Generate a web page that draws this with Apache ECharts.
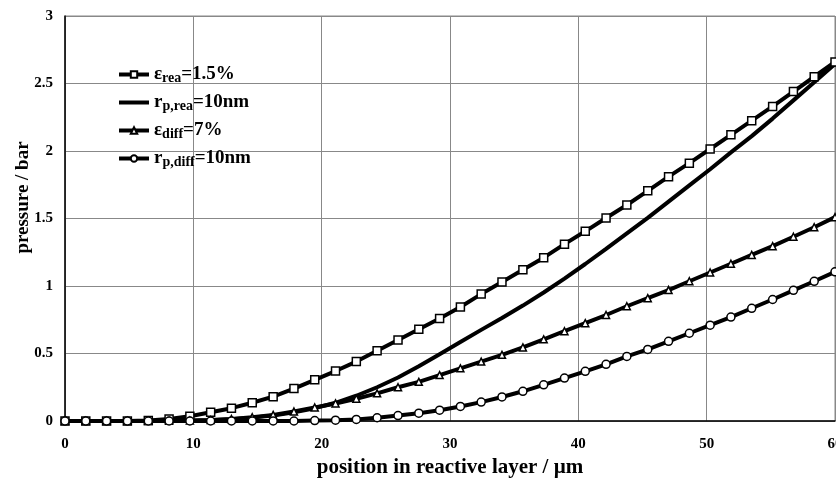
<!DOCTYPE html>
<html>
<head>
<meta charset="utf-8">
<script src="https://cdn.jsdelivr.net/npm/echarts@6/dist/echarts.min.js"></script>
<style>
  html, body { margin: 0; padding: 0; background: #fff; }
  #chart { width: 836px; height: 486px; }
</style>
</head>
<body>
<div id="chart"></div>
<script>
// position in reactive layer (µm), one value per marker
const positions = [0, 1.62, 3.24, 4.86, 6.49, 8.11, 9.73, 11.35, 12.97, 14.59,
  16.22, 17.84, 19.46, 21.08, 22.70, 24.32, 25.95, 27.57, 29.19, 30.81,
  32.43, 34.05, 35.68, 37.30, 38.92, 40.54, 42.16, 43.78, 45.41, 47.03,
  48.65, 50.27, 51.89, 53.51, 55.14, 56.76, 58.38, 60];

// pressure / bar
const epsRea = [0, 0, 0, 0, 0.004, 0.015, 0.035, 0.065, 0.095, 0.135,
  0.18, 0.24, 0.305, 0.37, 0.44, 0.52, 0.60, 0.68, 0.76, 0.845,
  0.94, 1.03, 1.12, 1.21, 1.31, 1.405, 1.504, 1.60, 1.705, 1.81,
  1.91, 2.015, 2.12, 2.225, 2.33, 2.44, 2.55, 2.66];
const rpRea = [0, 0, 0, 0, 0, 0, 0.002, 0.006, 0.013, 0.025,
  0.04, 0.065, 0.095, 0.135, 0.187, 0.25, 0.322, 0.405, 0.495, 0.585,
  0.675, 0.763, 0.855, 0.952, 1.055, 1.163, 1.275, 1.39, 1.505, 1.625,
  1.745, 1.865, 1.99, 2.11, 2.24, 2.375, 2.51, 2.645];
const epsDiff = [0, 0, 0, 0, 0, 0.001, 0.003, 0.007, 0.015, 0.028,
  0.045, 0.07, 0.10, 0.13, 0.165, 0.205, 0.25, 0.29, 0.34, 0.39,
  0.44, 0.49, 0.545, 0.605, 0.665, 0.725, 0.785, 0.85, 0.91, 0.97,
  1.035, 1.10, 1.165, 1.23, 1.295, 1.365, 1.435, 1.51];
const rpDiff = [0, 0, 0, 0, 0, 0, 0, 0, 0, 0,
  0, 0, 0.003, 0.006, 0.012, 0.024, 0.04, 0.058, 0.08, 0.108,
  0.14, 0.178, 0.22, 0.268, 0.318, 0.368, 0.42, 0.478, 0.53, 0.59,
  0.65, 0.71, 0.77, 0.835, 0.90, 0.968, 1.035, 1.105];

const xTicks = [0, 10, 20, 30, 40, 50, 60];

const font = "Liberation Serif";
const zip = (ys) => positions.map((x, i) => [x, ys[i]]);

const legendText = {
  epsRea: "{m|ε}{s|rea}{m|=1.5%}",
  rpRea: "{m|r}{s|p,rea}{m|=10nm}",
  epsDiff: "{m|ε}{s|diff}{m|=7%}",
  rpDiff: "{m|r}{s|p,diff}{m|=10nm}",
};

function lineSeries(name, ys, symbol, size) {
  return {
    name: name,
    type: "line",
    data: zip(ys),
    symbol: symbol,
    symbolSize: size,
    showSymbol: symbol !== "none",
    color: "#000",
    lineStyle: { color: "#000", width: 4 },
    itemStyle: { color: "#fff", borderColor: "#000", borderWidth: 1.5 },
    animation: false,
  };
}

const chart = echarts.init(document.getElementById("chart"));
chart.setOption({
  backgroundColor: "#fff",
  grid: {
    left: 65, right: 1, top: 16, bottom: 65,
    outerBoundsMode: "none",
    show: true, borderColor: "#888", borderWidth: 1,
  },
  legend: {
    orient: "vertical",
    left: 112, top: 60,
    itemWidth: 30, itemHeight: 8, itemGap: 7.5,
    lineStyle: { width: 4, color: "#000" },
    formatter: (n) => legendText[n],
    textStyle: {
      rich: {
        m: { fontFamily: font, fontWeight: "bold", fontSize: 19, color: "#000" },
        s: { fontFamily: font, fontWeight: "bold", fontSize: 14, color: "#000", padding: [8, 0, 0, 0] },
      },
    },
    data: [
      "epsRea",
      { name: "rpRea", itemStyle: { opacity: 0 } },
      "epsDiff",
      "rpDiff",
    ],
  },
  xAxis: {
    type: "value",
    min: xTicks[0], max: xTicks[xTicks.length - 1], interval: 10,
    name: "position in reactive layer / µm",
    nameLocation: "middle", nameGap: 32,
    nameTextStyle: { fontFamily: font, fontWeight: "bold", fontSize: 21, color: "#000" },
    axisLine: { lineStyle: { color: "#000", width: 1.5 } },
    axisTick: { show: false },
    axisLabel: { fontFamily: font, fontWeight: "bold", fontSize: 15, color: "#000", margin: 16 },
    splitLine: { lineStyle: { color: "#888", width: 1 } },
  },
  yAxis: {
    type: "value",
    min: 0, max: 3, interval: 0.5,
    name: "pressure / bar",
    nameLocation: "middle", nameGap: 32, nameMoveOverlap: false,
    nameTextStyle: { fontFamily: font, fontWeight: "bold", fontSize: 19, color: "#000", padding: [0, 0, 0, 42] },
    axisLine: { show: true, lineStyle: { color: "#000", width: 1.5 } },
    axisTick: { show: false },
    axisLabel: { fontFamily: font, fontWeight: "bold", fontSize: 15, color: "#000", margin: 12 },
    splitLine: { lineStyle: { color: "#888", width: 1 } },
  },
  series: [
    lineSeries("epsRea", epsRea, "rect", 8),
    lineSeries("rpRea", rpRea, "none", 0),
    lineSeries("epsDiff", epsDiff, "triangle", 7),
    lineSeries("rpDiff", rpDiff, "circle", 8),
  ],
});
</script>
</body>
</html>
